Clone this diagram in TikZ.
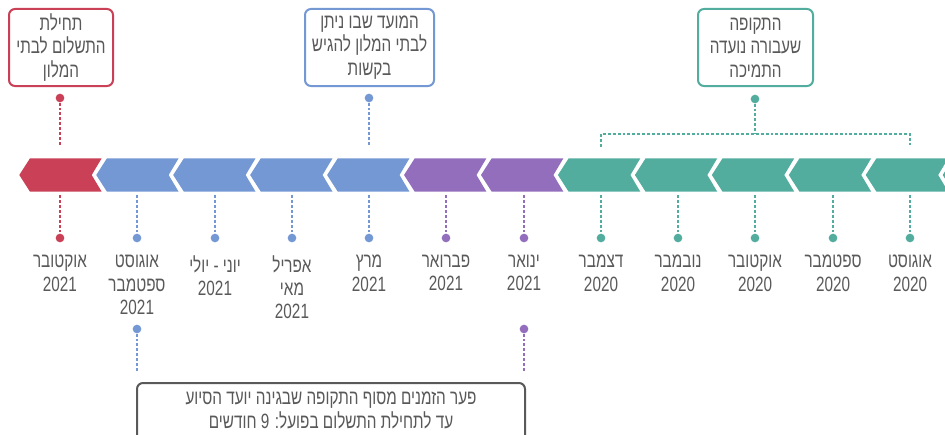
\documentclass[tikz,border=0pt]{standalone}
\usepackage{fontspec}
\setmainfont[Script=Hebrew,FakeStretch=0.74]{Liberation Sans}
\TeXXeTstate=1
\newcommand{\heb}[1]{\beginR#1\endR}
\definecolor{cred}{HTML}{C94057}
\definecolor{cblue}{HTML}{7398D4}
\definecolor{cpurple}{HTML}{926EBD}
\definecolor{cgreen}{HTML}{52AD9F}
\definecolor{cgray}{HTML}{595959}

\begin{document}
\begin{tikzpicture}[x=0.75pt,y=-0.75pt,
    txt/.style={text=cgray,font=\fontsize{15.5}{17.5}\selectfont,align=center,inner sep=0pt},
    box/.style={txt,draw=#1,fill=white,line width=1.5pt,rounded corners=4.5pt,minimum height=57.75pt},
    dot/.style={circle,fill=#1,inner sep=0pt,minimum size=6.5pt},
    dline/.style={#1,line width=1.5pt,dash pattern=on 2.2pt off 1.5pt}]
        \useasboundingbox (0,0) rectangle (945,435);
        \clip (0,0) rectangle (945,435);
        % timeline bar
        \foreach \i/\col in {0/cred,1/cblue,2/cblue,3/cblue,4/cblue,5/cpurple,6/cpurple,
                7/cgreen,8/cgreen,9/cgreen,10/cgreen,11/cgreen,12/cgreen} {
            \pgfmathsetmacro\tip{19.3+76.95*\i}
            \fill[\col] (\tip,175) -- ++(10.7,-16.7) -- ++(71.7,0) -- ++(-10,16.7)
                -- ++(10,16.7) -- ++(-71.7,0) -- cycle;
        }
        % months
        \foreach \i/\col/\txt in {0/cred/{\heb{אוקטובר}\\2021},
                1/cblue/{\heb{אוגוסט}\\\heb{ספטמבר}\\2021},
                2/cblue/{\heb{יוני - יולי}\\2021},
                3/cblue/{\heb{אפריל}\\\heb{מאי}\\2021},
                4/cblue/{\heb{מרץ}\\2021},
                5/cpurple/{\heb{פברואר}\\2021},
                6/cpurple/{\heb{ינואר}\\2021},
                7/cgreen/{\heb{דצמבר}\\2020},
                8/cgreen/{\heb{נובמבר}\\2020},
                9/cgreen/{\heb{אוקטובר}\\2020},
                10/cgreen/{\heb{ספטמבר}\\2020},
                11/cgreen/{\heb{אוגוסט}\\2020}} {
            \pgfmathsetmacro\mx{round(60+77.27*\i)}
            \coordinate (b\i) at (\mx,195);
            \node[dot=\col] (d\i) at (\mx,238) {};
            \draw[dline=\col] (b\i) -- (d\i);
            \node[txt,anchor=north] (m\i) at (\mx,255) {\txt};
        }
        % top boxes
        \node[box=cred,minimum width=78pt] (pay) at (61,47.5) {\heb{תחילת}\\\heb{התשלום לבתי}\\\heb{המלון}};
        \node[dot=cred] (paydot) at (60,98) {};
        \coordinate (payend) at (60,145);
        \draw[dline=cred] (paydot) -- (payend);
        \node[box=cblue,minimum width=96.75pt] (apply) at (369.5,47.5) {\heb{המועד שבו ניתן}\\\heb{לבתי המלון להגיש}\\\heb{בקשות}};
        \node[dot=cblue] (applydot) at (369,98) {};
        \coordinate (applyend) at (369,145);
        \draw[dline=cblue] (applydot) -- (applyend);
        \node[box=cgreen,minimum width=86.25pt] (period) at (755.5,47.5) {\heb{התקופה}\\\heb{שעבורה נועדה}\\\heb{התמיכה}};
        \node[dot=cgreen] (perioddot) at (755,99) {};
        \coordinate (brtop) at (755,134);
        \coordinate (brleft) at (601,147);
        \coordinate (brright) at (910,147);
        \draw[dline=cgreen] (perioddot) -- (brtop);
        \draw[dline=cgreen] (brleft) |- (brtop) -| (brright);
        % gap box
        \node[dot=cblue] (gapl) at (137,329) {};
        \node[dot=cpurple] (gapr) at (524,329) {};
        \coordinate (gaplend) at (137,372);
        \coordinate (gaprend) at (524,372);
        \draw[dline=cblue] (gapl) -- (gaplend);
        \draw[dline=cpurple] (gapr) -- (gaprend);
        \node[box=cgray,anchor=north,minimum width=291pt,minimum height=0pt,inner ysep=7pt] (gap) at (331,382)
            {\heb{פער הזמנים מסוף התקופה שבגינה יועד הסיוע}\\\heb{עד לתחילת התשלום בפועל: 9 חודשים}\rule[-15pt]{0pt}{1pt}};
    \end{tikzpicture}
\end{document}
